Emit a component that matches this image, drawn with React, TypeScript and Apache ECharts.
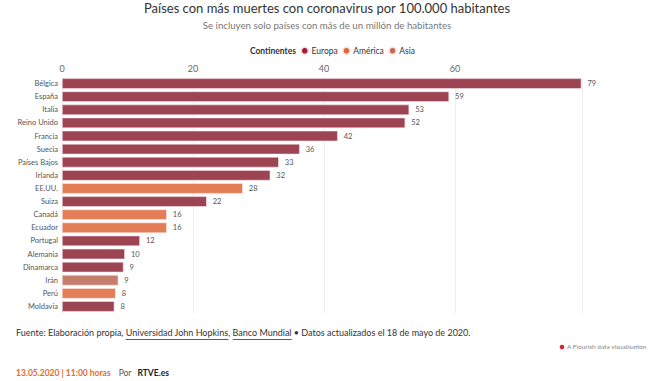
import React, { useEffect, useRef } from "react";
import * as echarts from "echarts";

const countries = [
  "Bélgica", "España", "Italia", "Reino Unido", "Francia", "Suecia", "Países Bajos", "Irlanda",
  "EE.UU.", "Suiza", "Canadá", "Ecuador", "Portugal", "Alemania", "Dinamarca", "Irán", "Perú", "Moldavia",
];
const deaths = [79.3, 59.1, 53.0, 52.4, 42.1, 36.3, 33.1, 31.8, 27.6, 22.1, 16.0, 16.0, 11.9, 9.6, 9.4, 8.6, 8.2, 8.0];
const continents = [
  "Europa", "Europa", "Europa", "Europa", "Europa", "Europa", "Europa", "Europa",
  "América", "Europa", "América", "América", "Europa", "Europa", "Europa", "Asia", "América", "Europa",
];
const continentNames = ["Europa", "América", "Asia"];
const barColors = ["#9d4453", "#e37e56", "#c67e6c"];
const legendColors = ["#a31c36", "#e8652c", "#c86c4f"];
const xTicks = [0, 20, 40, 60];

const FONT = "'Source Sans Pro', Lato, 'Open Sans', sans-serif";

function measure(text: string, font: string) {
  const c = document.createElement("canvas").getContext("2d")!;
  c.font = font;
  return c.measureText(text).width;
}

export default function App() {
  const ref = useRef<HTMLDivElement>(null);
  useEffect(() => {
    if (!ref.current) return;
    const chart = echarts.init(ref.current, undefined, { renderer: "svg" });

    const series = continentNames.map((cn, ci) => ({
      name: cn,
      type: "bar" as const,
      stack: "all",
      barCategoryGap: "20%",
      itemStyle: { color: barColors[ci], borderColor: "rgba(255,235,240,0.9)", borderWidth: 0.6 },
      label: {
        show: true,
        position: "right" as const,
        distance: 6,
        fontSize: 7.5,
        fontFamily: FONT,
        color: "#555",
        formatter: (p: any) => String(Math.round(p.value)),
      },
      data: deaths.map((v, i) => (continents[i] === cn ? v : null)),
    }));

    const footFont = `9px ${FONT}`;
    const pre = "Fuente: Elaboración propia, ";
    const link1 = "Universidad John Hopkins";
    const mid = ", ";
    const link2 = "Banco Mundial";
    const post = " • Datos actualizados el 18 de mayo de 2020.";
    const fx = 16;
    const x1 = fx + measure(pre, footFont);
    const w1 = measure(link1, footFont);
    const x2 = x1 + w1 + measure(mid, footFont);
    const w2 = measure(link2, footFont);
    const dateText = "13.05.2020 | 11:00 horas";
    const dateFont = `bold 8.5px ${FONT}`;
    const dw = measure(dateText, dateFont);
    const porFont = `8.5px ${FONT}`;
    const pw = measure("Por", porFont);

    chart.setOption({
      animation: false,
      backgroundColor: "#fff",
      textStyle: { fontFamily: FONT },
      title: [
        {
          text: "Países con más muertes con coronavirus por 100.000 habitantes",
          left: "center",
          top: 1,
          padding: 0,
          textStyle: { fontSize: 13, fontWeight: "normal", color: "#333", fontFamily: FONT },
        },
        {
          text: "Se incluyen solo países con más de un millón de habitantes",
          left: "center",
          top: 20,
          padding: 0,
          textStyle: { fontSize: 9.7, fontWeight: "normal", color: "#777", fontFamily: FONT },
        },
      ],
      legend: {
        left: 300,
        top: 46,
        padding: 0,
        itemWidth: 7.5,
        itemHeight: 7.5,
        itemGap: 4,
        icon: "circle",
        textStyle: { fontSize: 8.5, color: "#333", fontFamily: FONT, padding: [0, 0, 0, -2] },
        data: continentNames.map((n, i) => ({ name: n, itemStyle: { color: legendColors[i] } })),
      },
      grid: { left: 62, right: 654 - 62 - 79.5 * 6.55, top: 77, bottom: 381 - 313, containLabel: false },
      xAxis: {
        type: "value",
        position: "top",
        min: 0,
        max: 79.5,
        interval: 20,
        axisLine: { show: false },
        axisTick: { show: false },
        axisLabel: {
          fontSize: 9,
          color: "#666",
          fontFamily: FONT,
          margin: 4,
          formatter: (v: number) => (xTicks.includes(v) ? String(v) : ""),
        },
        splitLine: { lineStyle: { color: "#eeeeee", width: 1 } },
      },
      yAxis: {
        type: "category",
        inverse: true,
        data: countries,
        axisLine: { show: false },
        axisTick: { show: false },
        axisLabel: { fontSize: 7.5, color: "#555", fontFamily: FONT, margin: 4 },
      },
      series,
      graphic: [
        {
          type: "text",
          right: 654 - 296,
          top: 46,
          style: { text: "Continentes", font: `bold 8.5px ${FONT}`, fill: "#333" },
        },
        {
          type: "text",
          left: fx,
          top: 328,
          style: { text: pre + link1 + mid + link2 + post, font: footFont, fill: "#333" },
        },
        { type: "line", shape: { x1: x1, y1: 339.5, x2: x1 + w1, y2: 339.5 }, style: { stroke: "#333", lineWidth: 0.8 } },
        { type: "line", shape: { x1: x2, y1: 339.5, x2: x2 + w2, y2: 339.5 }, style: { stroke: "#333", lineWidth: 0.8 } },
        { type: "circle", shape: { cx: 562, cy: 347, r: 2.3 }, style: { fill: "#d7262b" } },
        {
          type: "text",
          left: 567,
          top: 343,
          style: { text: "A Flourish data visualisation", font: `6.5px ${FONT}`, fill: "#888" },
        },
        {
          type: "text",
          left: 16,
          top: 368,
          style: { text: dateText, font: dateFont, fill: "#e8692e" },
        },
        {
          type: "text",
          left: 16 + dw + 8,
          top: 368,
          style: { text: "Por", font: porFont, fill: "#555" },
        },
        {
          type: "text",
          left: 16 + dw + 8 + pw + 6,
          top: 368,
          style: { text: "RTVE.es", font: `bold 8.5px ${FONT}`, fill: "#222" },
        },
      ],
    });
    return () => chart.dispose();
  }, []);
  return <div ref={ref} style={{ position: "fixed", left: 0, top: 0, width: 654, height: 381 }} />;
}
